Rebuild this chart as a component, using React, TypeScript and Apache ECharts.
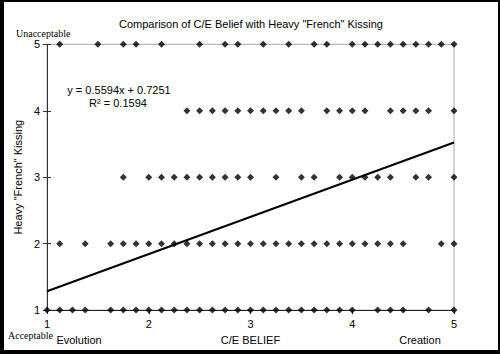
import React, { useEffect, useRef } from "react";
import * as echarts from "echarts";

const titleText = 'Comparison of C/E Belief with Heavy "French" Kissing';
const xTickLabels = ["1", "2", "3", "4", "5"];
const yTickLabels = ["1", "2", "3", "4", "5"];

// x positions (C/E belief) of responses at each kissing level
const level1X = [1, 1.125, 1.25, 1.375, 1.625, 1.75, 1.875, 2, 2.125, 2.25, 2.375, 2.5, 2.625, 2.75, 2.875, 3, 3.125, 3.25, 3.375, 3.5, 3.625, 3.75, 3.875, 4, 4.25, 4.375, 4.5, 4.75, 5];
const level2X = [1.125, 1.375, 1.625, 1.75, 1.875, 2, 2.125, 2.25, 2.375, 2.5, 2.625, 2.75, 2.875, 3, 3.125, 3.25, 3.375, 3.5, 3.625, 3.75, 3.875, 4, 4.125, 4.25, 4.375, 4.5, 4.875, 5];
const level3X = [1.75, 2, 2.125, 2.25, 2.375, 2.5, 2.625, 2.75, 2.875, 3, 3.25, 3.5, 3.625, 3.875, 4, 4.125, 4.25, 4.375, 4.625, 4.75, 5];
const level4X = [2.375, 2.5, 2.625, 2.75, 2.875, 3, 3.125, 3.25, 3.375, 3.5, 3.75, 3.875, 4, 4.125, 4.375, 4.5, 4.625, 4.75, 5];
const level5X = [1.125, 1.5, 1.75, 1.875, 2.125, 2.5, 2.75, 2.875, 3.125, 3.375, 3.625, 3.75, 4, 4.125, 4.25, 4.375, 4.5, 4.625, 4.75, 4.875, 5];
const levels = [1, 2, 3, 4, 5];

const trendSlope = 0.5594;
const trendIntercept = 0.7251;
const trendR2 = 0.1594;
const trendXRange = [1, 5];

const OX = 4;
const OY = 2;

export default function App() {
  const ref = useRef<HTMLDivElement>(null);
  useEffect(() => {
    if (!ref.current) return;
    const chart = echarts.init(ref.current, undefined, { renderer: "svg" });
    const groups = [level1X, level2X, level3X, level4X, level5X];
    const points: number[][] = [];
    groups.forEach((xs, i) => xs.forEach((x) => points.push([x, levels[i]])));
    const trend = trendXRange.map((x) => [x, trendSlope * x + trendIntercept]);
    const font = "'Liberation Sans', Arial, sans-serif";
    const serif = "'Liberation Serif', 'Times New Roman', serif";
    chart.setOption({
      animation: false,
      backgroundColor: "#ffffff",
      title: {
        text: titleText,
        left: "center",
        top: 13 - OY,
        textStyle: { fontFamily: font, fontSize: 11, fontWeight: "normal", color: "#000" },
      },
      grid: {
        left: 45 - OX,
        right: 44,
        top: 44.3 - OY,
        bottom: 39.3,
        show: true,
        borderColor: "#a8a8a8",
        borderWidth: 1,
        backgroundColor: "transparent",
      },
      xAxis: [
        {
          type: "value",
          min: 1,
          max: 5,
          interval: 1,
          position: "bottom",
          name: "C/E BELIEF",
          nameLocation: "middle",
          nameGap: 23,
          nameTextStyle: { fontFamily: font, fontSize: 11, color: "#000" },
          axisLine: { show: true, lineStyle: { color: "#222", width: 1 } },
          axisTick: { show: true, length: 4, lineStyle: { color: "#222" } },
          splitLine: { show: false },
          axisLabel: {
            fontFamily: font,
            fontSize: 11,
            color: "#000",
            margin: 8,
            formatter: (v: number) => xTickLabels[Math.round(v) - 1] ?? "",
          },
        },
      ],
      yAxis: [
        {
          type: "value",
          min: 1,
          max: 5,
          interval: 1,
          position: "left",
          name: 'Heavy "French" Kissing',
          nameLocation: "middle",
          nameGap: 17,
          nameTextStyle: { fontFamily: font, fontSize: 11, color: "#000" },
          axisLine: { show: true, lineStyle: { color: "#333", width: 1 } },
          axisTick: { show: true, length: 4, lineStyle: { color: "#333" } },
          splitLine: { show: false },
          axisLabel: {
            fontFamily: font,
            fontSize: 11,
            color: "#000",
            margin: 7,
            formatter: (v: number) => yTickLabels[Math.round(v) - 1] ?? "",
          },
        },
        {
          type: "value",
          min: 1,
          max: 5,
          interval: 1,
          position: "left",
          axisLine: { show: false },
          axisTick: { show: true, inside: true, length: 4, lineStyle: { color: "#333" } },
          splitLine: { show: false },
          axisLabel: { show: false },
        },
      ],
      series: [
        {
          type: "scatter",
          data: points,
          symbol: "diamond",
          symbolSize: 7,
          itemStyle: { color: "#000" },
          z: 3,
        },
        {
          type: "line",
          data: trend,
          symbol: "none",
          lineStyle: { color: "#000", width: 2 },
          z: 4,
        },
      ],
      graphic: [
        {
          type: "text",
          left: 16 - OX,
          top: 28 - OY,
          style: { text: "Unacceptable", font: `10px ${serif}`, fill: "#000" },
        },
        {
          type: "text",
          left: 8 - OX,
          top: 330 - OY,
          style: { text: "Acceptable", font: `10px ${serif}`, fill: "#000" },
        },
        {
          type: "text",
          x: 79 - OX,
          y: 340 - OY,
          style: { text: "Evolution", font: `11px ${font}`, fill: "#000", align: "center", verticalAlign: "middle" },
        },
        {
          type: "text",
          x: 420 - OX,
          y: 340 - OY,
          style: { text: "Creation", font: `11px ${font}`, fill: "#000", align: "center", verticalAlign: "middle" },
        },
        {
          type: "text",
          x: 119 - OX,
          y: 90 - OY,
          style: {
            text: `y = ${trendSlope.toFixed(4)}x + ${trendIntercept.toFixed(4)}`,
            font: `11px ${font}`,
            fill: "#000",
            align: "center",
            verticalAlign: "middle",
          },
        },
        {
          type: "text",
          x: 118 - OX,
          y: 103 - OY,
          style: {
            text: `R\u00b2 = ${trendR2.toFixed(4)}`,
            font: `11px ${font}`,
            fill: "#000",
            align: "center",
            verticalAlign: "middle",
          },
        },
      ],
    });
    return () => chart.dispose();
  }, []);
  return (
    <div style={{ position: "fixed", left: 0, top: 0, width: 500, height: 354, background: "#000" }}>
      <div
        ref={ref}
        style={{ position: "absolute", left: OX, top: OY, width: 494, height: 348, background: "#fff" }}
      />
    </div>
  );
}
